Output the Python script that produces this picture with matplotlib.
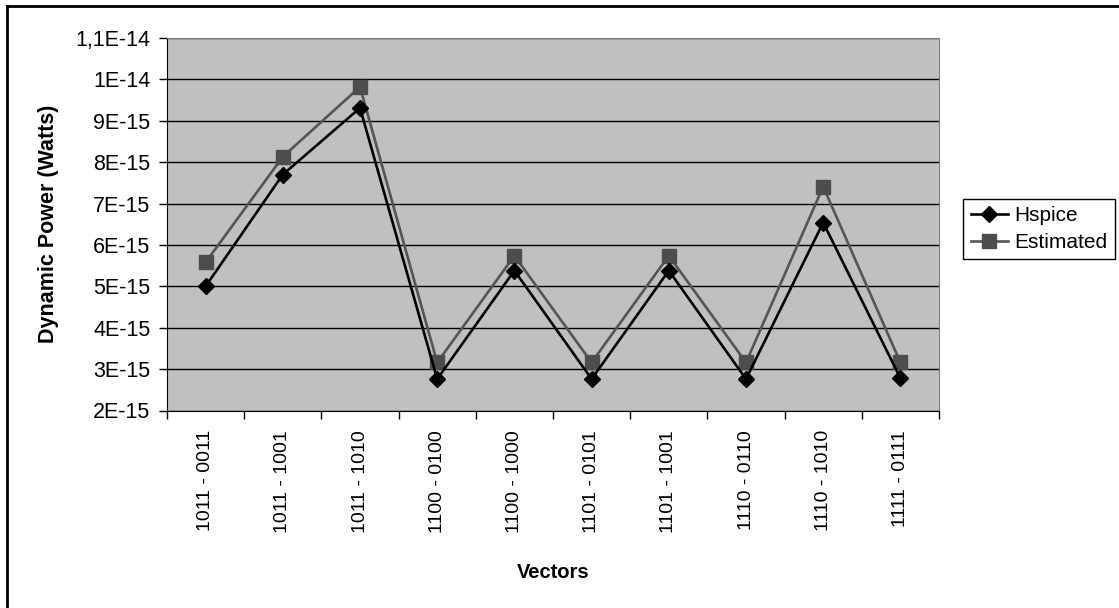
import matplotlib
matplotlib.use("Agg")
import matplotlib.pyplot as plt
from matplotlib.ticker import FixedLocator
from matplotlib.lines import Line2D

vectors = ["1011 - 0011", "1011 - 1001", "1011 - 1010", "1100 - 0100", "1100 - 1000",
           "1101 - 0101", "1101 - 1001", "1110 - 0110", "1110 - 1010", "1111 - 0111"]
hspice = [5.0e-15, 7.7e-15, 9.31e-15, 2.76e-15, 5.38e-15,
          2.76e-15, 5.38e-15, 2.76e-15, 6.54e-15, 2.78e-15]
estimated = [5.58e-15, 8.13e-15, 9.82e-15, 3.16e-15, 5.74e-15,
             3.16e-15, 5.74e-15, 3.16e-15, 7.41e-15, 3.16e-15]
y_ticks = [2e-15, 3e-15, 4e-15, 5e-15, 6e-15, 7e-15, 8e-15, 9e-15, 1e-14, 1.1e-14]
y_labels = ["2E-15", "3E-15", "4E-15", "5E-15", "6E-15", "7E-15", "8E-15", "9E-15", "1E-14", "1,1E-14"]

plt.rcParams['font.family'] = ['Liberation Sans', 'DejaVu Sans']

fig = plt.figure(figsize=(11.19, 6.08), dpi=100)
ax = fig.add_axes([167 / 1119, 1 - 410.5 / 608, (939 - 167) / 1119, (410.5 - 38) / 608])
ax.set_facecolor('#C0C0C0')

x = list(range(len(vectors)))
ax.plot(x, hspice, color='black', lw=1.9, marker='D', ms=8,
        mfc='black', mec='black', label='Hspice', zorder=4)
ax.plot(x, estimated, color='#555555', lw=1.9, marker='s', ms=9.5,
        mfc='#4D4D4D', mec='#4D4D4D', label='Estimated', zorder=3)

ax.set_xlim(-0.5, len(vectors) - 0.5)
ax.set_ylim(2e-15, 1.1e-14)
ax.set_yticks(y_ticks)
ax.set_yticklabels(y_labels, fontsize=15.5)
ax.yaxis.grid(True, color='black', lw=1)
ax.set_axisbelow(True)

ax.set_xticks(x)
ax.set_xticklabels(vectors, rotation=90, fontsize=14, va='top', ha='center')
ax.tick_params(axis='x', which='major', length=0, pad=14)
ax.xaxis.set_minor_locator(FixedLocator([i - 0.5 for i in range(len(vectors) + 1)]))
ax.tick_params(axis='x', which='minor', length=6, width=1, direction='out')
ax.tick_params(axis='y', length=6, width=1, direction='out', pad=6)

for side in ['top', 'right']:
    ax.spines[side].set_color('#808080')
for side in ['left', 'bottom']:
    ax.spines[side].set_color('black')

ax.set_ylabel("Dynamic Power (Watts)", fontsize=15.5, fontweight='bold', labelpad=12)
ax.set_xlabel("Vectors", fontsize=14.5, fontweight='bold', labelpad=22)

leg = fig.legend(loc='center left', bbox_to_anchor=(953 / 1119, 1 - 229 / 608), fontsize=15,
                 frameon=True, fancybox=False, edgecolor='black', framealpha=1,
                 handlelength=1.8, handletextpad=0.3, borderpad=0.35, labelspacing=0.4)
leg.get_frame().set_linewidth(1)

# frame around the chart area (only left and top edges visible)
fig.add_artist(Line2D([7 / 1119, 7 / 1119], [0, 1 - 6 / 608], transform=fig.transFigure,
                      color='black', lw=2))
fig.add_artist(Line2D([7 / 1119, 1], [1 - 6 / 608, 1 - 6 / 608], transform=fig.transFigure,
                      color='black', lw=2))

fig.savefig("out.png", dpi=100)
